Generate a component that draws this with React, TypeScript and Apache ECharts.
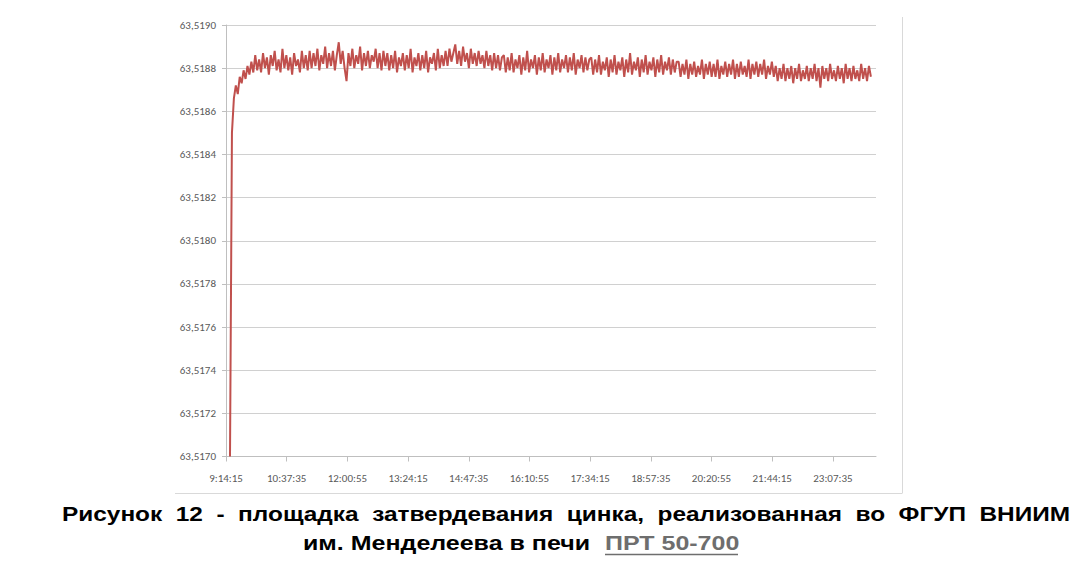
import React, { useEffect, useRef } from "react";
import * as echarts from "echarts";

// Time axis: seconds after 9:14:15
const AXIS_START_S = 9 * 3600 + 14 * 60 + 15;
const AXIS_SPAN_S = 53550;
const TICK_STEP_S = 5000;
const tickOffsets = [0, 5000, 10000, 15000, 20000, 25000, 30000, 35000, 40000, 45000, 50000];

// sampling of the recorded signal
const FIRST_SAMPLE_S = 330;
const SAMPLE_STEP_S = 160;

const yMin = 63.517;
const yMax = 63.519;
const yStep = 0.0002;

const resistance = [
  // warm-up / rise
  63.517, 63.5185, 63.51866, 63.51872, 63.51868, 63.51876, 63.51873, 63.51879, 63.51875, 63.51881, 63.51877, 63.51883, 63.51878,
  // A
  63.51886, 63.51879, 63.51884, 63.51878, 63.51887, 63.5188, 63.51885, 63.51877, 63.51886, 63.51881, 63.51888, 63.51879, 63.51884, 63.51878,
  63.51889, 63.5188, 63.51886, 63.51879, 63.51885, 63.51877, 63.51887, 63.51881, 63.51884, 63.51878, 63.51888, 63.5188, 63.51886, 63.51879,
  // B
  63.51888, 63.5188, 63.51887, 63.51881, 63.51889, 63.51879, 63.51886, 63.51882, 63.5189, 63.5188, 63.51887, 63.51881, 63.51888, 63.51879,
  63.51886, 63.51892, 63.51882, 63.51888, 63.5188, 63.51874, 63.51887, 63.51881, 63.51889, 63.5188, 63.51886, 63.51882, 63.5189, 63.51879,
  63.51887, 63.51881, 63.51888, 63.5188, 63.51886, 63.51883, 63.51889, 63.5188, 63.51887, 63.51879, 63.51888, 63.51881,
  // C
  63.51887, 63.51879, 63.51886, 63.5188, 63.51888, 63.51878, 63.51885, 63.51881, 63.51887, 63.51879, 63.51886, 63.5188, 63.51889, 63.51878,
  63.51885, 63.51881, 63.51887, 63.51879, 63.51886, 63.5188, 63.51888, 63.51878, 63.51885, 63.51882, 63.51887, 63.51879, 63.51889, 63.5188,
  63.51886, 63.51881,
  // D
  63.51888, 63.51881, 63.51889, 63.51883, 63.51887, 63.51891, 63.51882, 63.51888, 63.51881, 63.5189, 63.51883, 63.51887, 63.5188, 63.51889,
  63.51882, 63.51887, 63.51881, 63.51888, 63.51882, 63.51886, 63.5188, 63.51888, 63.51881, 63.51886, 63.51879, 63.51887, 63.5188, 63.51886,
  63.51879, 63.51885,
  // E
  63.51886, 63.51878, 63.51885, 63.51879, 63.51887, 63.51878, 63.51884, 63.5188, 63.51886, 63.51877, 63.51885, 63.51879, 63.51888, 63.51878,
  63.51884, 63.5188, 63.51886, 63.51877, 63.51885, 63.51879, 63.51887, 63.51878, 63.51884, 63.5188, 63.51886, 63.51877, 63.51885, 63.51879,
  63.51887, 63.51878, 63.51884, 63.5188, 63.51886, 63.51878, 63.51885, 63.51879, 63.51887, 63.51877, 63.51884, 63.5188, 63.51886, 63.51878,
  63.51885, 63.51879, 63.51884,
  // F
  63.51885, 63.51877, 63.51884, 63.51878, 63.51886, 63.51877, 63.51883, 63.51879, 63.51885, 63.51876, 63.51884, 63.51878, 63.51886, 63.51877,
  63.51883, 63.51879, 63.51885, 63.51876, 63.51884, 63.51878, 63.51887, 63.51877, 63.51883, 63.51879, 63.51885, 63.51876, 63.51884, 63.51878,
  63.51886, 63.51877, 63.51883, 63.51879, 63.51885, 63.51876, 63.51884, 63.51878, 63.51886, 63.51877, 63.51883, 63.51879, 63.51885, 63.51877,
  63.51884, 63.51878, 63.51883,
  // G
  63.51883, 63.51876, 63.51882, 63.51877, 63.51884, 63.51875, 63.51882, 63.51877, 63.51883, 63.51876, 63.51881, 63.51877, 63.51884, 63.51875,
  63.51882, 63.51877, 63.51883, 63.51876, 63.51882, 63.51876, 63.51884, 63.51875, 63.51881, 63.51877, 63.51883, 63.51876, 63.51882, 63.51877,
  63.51884, 63.51875, 63.51882, 63.51876, 63.51883, 63.51877, 63.51881, 63.51876, 63.51884, 63.51875, 63.51882, 63.51877, 63.51883, 63.51876,
  63.51882, 63.51877, 63.51884, 63.51875, 63.51881, 63.51877, 63.51883, 63.51876,
  // H
  63.51881, 63.51874, 63.5188, 63.51875, 63.51882, 63.51874, 63.5188, 63.51875, 63.51881, 63.51873, 63.5188, 63.51875, 63.51882, 63.51874,
  63.51879, 63.51875, 63.51881, 63.51874, 63.5188, 63.51875, 63.51882, 63.51874, 63.5188, 63.51871, 63.51881, 63.51875, 63.5188, 63.51874,
  63.51882, 63.51875, 63.51879, 63.51874, 63.51881, 63.51875, 63.5188, 63.51873, 63.51882, 63.51875, 63.5188, 63.51874, 63.51881, 63.51875,
  63.51879, 63.51874, 63.51882, 63.51875, 63.5188, 63.51874, 63.51881, 63.51876,
];

const captionLine1 = "Рисунок  12  -  площадка  затвердевания  цинка,  реализованная  во  ФГУП  ВНИИМ";
const captionLine2 = "им. Менделеева в печи";
const captionLink = "ПРТ 50-700";

function fmtTime(offset: number): string {
  const s = AXIS_START_S + offset;
  const h = Math.floor(s / 3600);
  const m = Math.floor((s % 3600) / 60);
  const sec = s % 60;
  return `${h}:${String(m).padStart(2, "0")}:${String(sec).padStart(2, "0")}`;
}

export default function App() {
  const ref = useRef<HTMLDivElement>(null);
  useEffect(() => {
    if (!ref.current) return;
    const chart = echarts.init(ref.current, null, { renderer: "svg" });
    const data = resistance.map((v, i) => [FIRST_SAMPLE_S + i * SAMPLE_STEP_S, v]);
    const labelFont = "Carlito, Lato, sans-serif";
    const capFont = "bold 21px 'Liberation Sans', Arial, sans-serif";
    chart.setOption({
      animation: false,
      backgroundColor: "#ffffff",
      grid: { left: 226, right: 208, top: 25, bottom: 106.5, containLabel: false },
      xAxis: {
        type: "value",
        min: 0,
        max: AXIS_SPAN_S,
        interval: TICK_STEP_S,
        axisLine: { show: true, lineStyle: { color: "#bfbfbf", width: 1 } },
        axisTick: { show: true, length: 5, lineStyle: { color: "#bfbfbf" }, customValues: tickOffsets },
        axisLabel: {
          customValues: tickOffsets,
          formatter: (v: number) => fmtTime(v),
          color: "#595959",
          fontSize: 11,
          fontFamily: labelFont,
          margin: 16,
        },
        splitLine: { show: false },
      },
      yAxis: {
        type: "value",
        min: yMin,
        max: yMax,
        interval: yStep,
        axisLine: { show: true, lineStyle: { color: "#bfbfbf", width: 1 } },
        axisTick: { show: true, length: 4, lineStyle: { color: "#bfbfbf" } },
        axisLabel: {
          formatter: (v: number) => v.toFixed(4).replace(".", ","),
          color: "#595959",
          fontSize: 11,
          fontFamily: labelFont,
          margin: 10,
        },
        splitLine: { show: true, lineStyle: { color: "#d0d0d0", width: 1 } },
      },
      series: [
        {
          type: "line",
          data,
          symbol: "none",
          lineStyle: { color: "#c0504d", width: 2 },
          clip: true,
        },
      ],
      graphic: [
        { type: "line", shape: { x1: 902.5, y1: 17, x2: 902.5, y2: 493 }, style: { stroke: "#d9d9d9", lineWidth: 1 } },
        { type: "line", shape: { x1: 175, y1: 493.5, x2: 902.5, y2: 493.5 }, style: { stroke: "#d9d9d9", lineWidth: 1 } },
        {
          type: "text",
          x: 62,
          y: 514,
          scaleX: 1.162,
          style: { text: captionLine1, font: capFont, fill: "#000000", textVerticalAlign: "middle" },
        },
        {
          type: "text",
          x: 303,
          y: 543,
          scaleX: 1.19,
          style: { text: captionLine2, font: capFont, fill: "#000000", textVerticalAlign: "middle" },
        },
        {
          type: "text",
          x: 605,
          y: 543,
          scaleX: 1.19,
          style: { text: captionLink, font: capFont, fill: "#6e6e6e", textVerticalAlign: "middle" },
        },
        { type: "line", shape: { x1: 605, y1: 554.5, x2: 738, y2: 554.5 }, style: { stroke: "#6e6e6e", lineWidth: 1.5 } },
      ],
    });
    return () => chart.dispose();
  }, []);
  return <div ref={ref} style={{ position: "fixed", left: 0, top: 0, width: 1084, height: 563 }} />;
}
